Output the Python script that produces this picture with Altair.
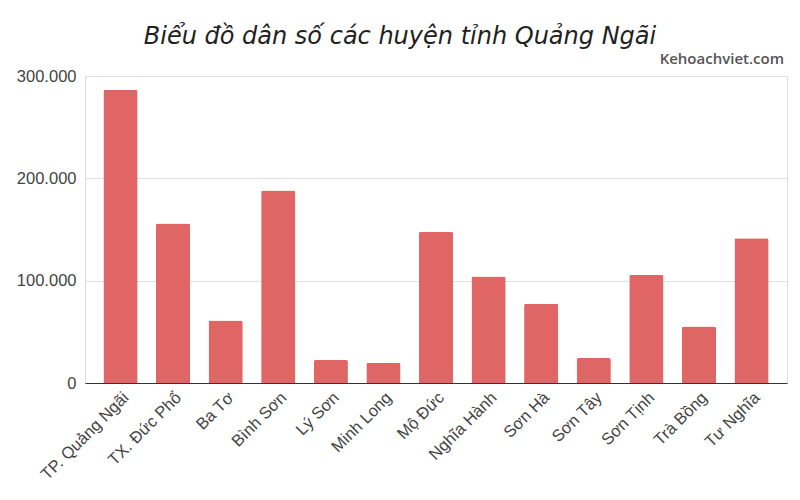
import altair as alt
import pandas as pd

districts = ["TP. Quảng Ngãi", "TX. Đức Phổ", "Ba Tơ", "Bình Sơn", "Lý Sơn",
             "Minh Long", "Mộ Đức", "Nghĩa Hành", "Sơn Hà", "Sơn Tây",
             "Sơn Tịnh", "Trà Bồng", "Tư Nghĩa"]
population = [286600, 155900, 61100, 188200, 22500,
              19900, 147900, 104000, 77400, 24400,
              105700, 55200, 141500]
y_ticks = [0, 100000, 200000, 300000]
title_text = "Biểu đồ dân số các huyện tỉnh Quảng Ngãi"
watermark = "Kehoachviet.com"

df = pd.DataFrame({"district": districts, "population": population})

bars = alt.Chart(df).mark_bar(
    color="#e06666", cornerRadiusTopLeft=2, cornerRadiusTopRight=2
).encode(
    x=alt.X("district:N", sort=districts, title=None,
            scale=alt.Scale(paddingInner=0.35, paddingOuter=0.35),
            axis=alt.Axis(labelAngle=-45, labelFont="Liberation Sans", labelFontSize=16.5,
                          labelColor="#444444", ticks=False, domainColor="#333333",
                          domainWidth=1, labelPadding=6, grid=False)),
    y=alt.Y("population:Q", title=None,
            scale=alt.Scale(domain=[0, 300000], nice=False),
            axis=alt.Axis(values=y_ticks, labelFont="Liberation Sans", labelFontSize=16.5,
                          labelColor="#444444", ticks=False, domain=False,
                          gridColor="#e0e0e0", gridWidth=1, labelPadding=9,
                          labelExpr="replace(format(datum.value, ','), ',', '.')"))
)

wm = alt.Chart(pd.DataFrame({"t": [watermark]})).mark_text(
    align="right", baseline="alphabetic", font="Open Sans", fontWeight=600,
    fontSize=15, color="#555555"
).encode(text="t:N", x=alt.value(699), y=alt.value(-12.5))

ttl = alt.Chart(pd.DataFrame({"t": [title_text]})).mark_text(
    align="center", baseline="alphabetic", font="DejaVu Sans", fontStyle="italic",
    fontSize=24, color="#222222"
).encode(text="t:N", x=alt.value(315), y=alt.value(-32.5))

chart = alt.layer(bars, wm, ttl).properties(
    width=702, height=307,
    autosize=alt.AutoSizeParams(type="none"),
    padding={"left": 77, "top": 68, "right": 4, "bottom": 108},
).configure_view(strokeWidth=0, stroke="transparent").configure(background="white")

chart.save("out.html", embed_options={"renderer": "svg", "actions": False})
